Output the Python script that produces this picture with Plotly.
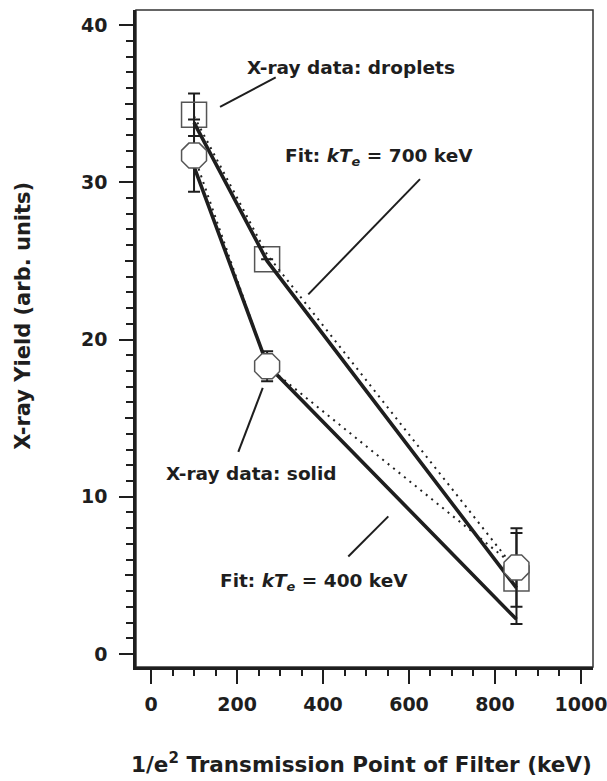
import plotly.graph_objects as go

# ---- data ----
x_filter = [100, 270, 850]                 # 1/e^2 transmission point (keV)
droplet_yield = [34.3, 25.1, 4.8]
droplet_err = [1.35, None, 2.9]
solid_yield = [31.7, 18.3, 5.5]
solid_err = [2.3, 0.95, 2.5]
fit_700 = [33.8, 25.0, 4.2]                # Fit kTe = 700 keV (droplets)
fit_400 = [31.0, 18.4, 2.2]                # Fit kTe = 400 keV (solid)
dotted_droplet = [34.2, 25.4, 5.3]
dotted_solid = [31.7, 18.3, 5.5]

x_ticks = [0, 200, 400, 600, 800, 1000]
y_ticks = [0, 10, 20, 30, 40]
y_mid_ticks = [5, 15, 25, 35]

FONT = "DejaVu Sans"
INK = "#1e1e1e"

fig = go.Figure()

# open squares (droplets) - drawn beneath the lines
fig.add_trace(go.Scatter(
    x=x_filter, y=droplet_yield, mode="markers",
    marker=dict(symbol="square-open", size=25, color="#555555",
                line=dict(width=1.5, color="#555555")),
    error_y=dict(type="data", array=droplet_err, visible=True,
                 color=INK, thickness=2, width=6),
    showlegend=False))

# dotted curves
for ys in (dotted_droplet, dotted_solid):
    fig.add_trace(go.Scatter(x=x_filter, y=ys, mode="lines",
                             line=dict(color="#222222", width=2, dash="2px,5px"),
                             showlegend=False))

# thick fit lines
for ys in (fit_700, fit_400):
    fig.add_trace(go.Scatter(x=x_filter, y=ys, mode="lines",
                             line=dict(color=INK, width=3.6), showlegend=False))

# octagons (solid) - opaque white, on top
fig.add_trace(go.Scatter(
    x=x_filter, y=solid_yield, mode="markers",
    marker=dict(symbol="octagon", size=27, color="white",
                line=dict(width=1.5, color="#555555")),
    error_y=dict(type="data", array=solid_err, visible=True,
                 color=INK, thickness=2, width=6),
    showlegend=False))

# invisible trace to carry the mid-tick overlay axis
fig.add_trace(go.Scatter(x=[None], y=[None], yaxis="y2", showlegend=False,
                         hoverinfo="skip"))

tick_font = dict(family=FONT, size=19, color=INK, weight="bold")

fig.update_layout(
    width=607, height=781,
    margin=dict(l=136, r=14, t=10, b=114, autoexpand=False),
    paper_bgcolor="white", plot_bgcolor="white",
    xaxis=dict(range=[-35, 1028], tickvals=x_ticks, automargin=False,
               ticks="outside", ticklen=14, tickwidth=2, tickcolor=INK,
               minor=dict(dtick=50, ticks="outside", ticklen=6, tickwidth=2,
                          tickcolor=INK, tick0=0),
               showline=True, linewidth=2.5, linecolor=INK,
               showgrid=False, zeroline=False, tickfont=tick_font,
               ticklabelstandoff=4, ticklabeloverflow="allow"),
    yaxis=dict(range=[-0.83, 40.96], tickvals=y_ticks, automargin=False,
               ticks="outside", ticklen=14, tickwidth=2, tickcolor=INK,
               minor=dict(dtick=1, ticks="outside", ticklen=7, tickwidth=2,
                          tickcolor=INK, tick0=0),
               showline=True, linewidth=2.5, linecolor=INK,
               showgrid=False, zeroline=False, tickfont=tick_font,
               ticklabelstandoff=8),
    yaxis2=dict(range=[-0.83, 40.96], overlaying="y", side="left",
                automargin=False,
                tickvals=y_mid_ticks, ticks="outside", ticklen=10,
                tickwidth=2, tickcolor=INK, showticklabels=False,
                showline=False, showgrid=False, zeroline=False),
)

# frame (top / right)
fig.add_shape(type="rect", xref="paper", yref="paper", x0=0, x1=1, y0=0, y1=1,
              line=dict(color="#333333", width=1.5), layer="below")

ann_font = dict(family=FONT, size=18.5, color=INK, weight="bold")

# leader lines (data coordinates)
leaders = [((160.5, 34.8), (290, 36.67)),
           ((365.8, 22.87), (625.6, 30.2)),
           ((259.8, 16.92), (203, 12.85)),
           ((458.8, 6.2), (551.9, 8.75))]
for (xa, ya), (xb, yb) in leaders:
    fig.add_shape(type="line", xref="x", yref="y", x0=xa, y0=ya, x1=xb, y1=yb,
                  line=dict(color=INK, width=2))

labels = [
    (465, 37.3, "X-ray data: droplets"),
    (530, 31.6, "Fit: <i>kT</i><sub><i>e</i></sub> = 700 keV"),
    (232.6, 11.5, "X-ray data: solid"),
    (380, 4.6, "Fit: <i>kT</i><sub><i>e</i></sub> = 400 keV"),
]
for xx, yy, txt in labels:
    fig.add_annotation(x=xx, y=yy, xref="x", yref="y", text=txt,
                       showarrow=False, xanchor="center", yanchor="middle",
                       font=ann_font)

title_font = dict(family=FONT, size=21.5, color=INK, weight="bold")
fig.add_annotation(x=0.4945, y=-0.146, xref="paper", yref="paper",
                   text="1/e<sup>2</sup> Transmission Point of Filter (keV)",
                   showarrow=False, xanchor="center", yanchor="middle",
                   font=title_font)
fig.add_annotation(x=-0.246, y=0.534, xref="paper", yref="paper",
                   text="X-ray Yield (arb. units)", textangle=-90,
                   showarrow=False, xanchor="center", yanchor="middle",
                   font=dict(family=FONT, size=21, color=INK, weight="bold"))

fig.write_html("out.html", config={"displayModeBar": False},
               post_script="document.body.style.margin='0px';")
